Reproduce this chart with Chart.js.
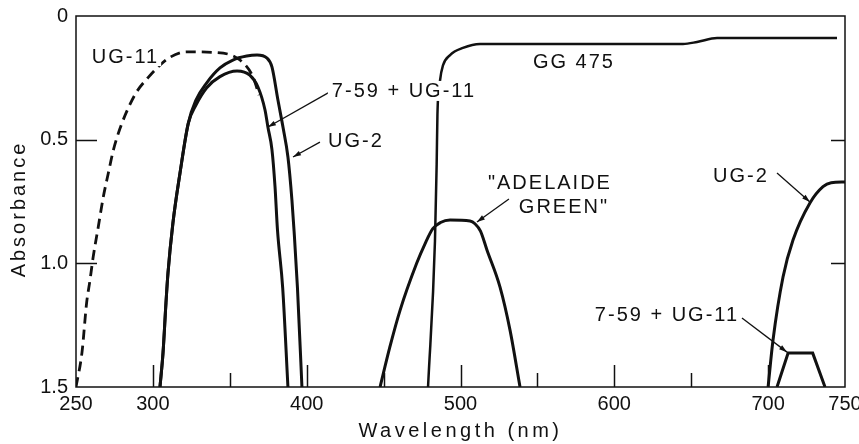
<!DOCTYPE html>
<html>
<head>
<meta charset="utf-8">
<script src="https://cdn.jsdelivr.net/npm/chart.js@4"></script>
<style>
  html, body { margin: 0; padding: 0; background: #fff; }
</style>
</head>
<body>
<canvas id="graficoFiltros" width="859" height="444"></canvas>
<script>
// curvas (longitud de onda nm, absorbancia)
const ug11Wl  = [250, 253.9, 256.9, 259.1, 261.2, 264.5, 267.8, 271, 274.3, 278.6, 284, 289.5, 297, 303.5, 311.1, 322, 341.7, 356.6, 365, 369];
const ug11Abs = [1.5, 1.36, 1.16, 1.068, 0.973, 0.852, 0.73, 0.636, 0.542, 0.455, 0.372, 0.306, 0.248, 0.205, 0.167, 0.145, 0.148, 0.178, 0.245, 0.32];

const f759Wl  = [304.6, 306.6, 308.5, 309.8, 313, 317.6, 323, 328, 335, 343.6, 354.7, 363, 368.3, 372.9, 374.8, 377.4, 379.4, 381, 384.4, 387.8];
const f759Abs = [1.5, 1.36, 1.16, 1.04, 0.838, 0.636, 0.434, 0.36, 0.29, 0.245, 0.222, 0.239, 0.287, 0.38, 0.45, 0.54, 0.69, 0.865, 1.1, 1.5];

const ug2Wl  = [304.6, 306.6, 308.5, 309.8, 313, 317.6, 323, 328, 335, 343.6, 352, 361, 367.7, 374.2, 377.4, 381.3, 384.6, 387.8, 390.4, 391.8, 394, 396.9];
const ug2Abs = [1.5, 1.36, 1.16, 1.04, 0.838, 0.636, 0.434, 0.34, 0.27, 0.21, 0.178, 0.162, 0.158, 0.17, 0.206, 0.34, 0.45, 0.57, 0.744, 0.87, 1.1, 1.5];

const gg475Wl  = [478.9, 483.4, 484.5, 485, 486.7, 488.6, 493.2, 501.6, 512.7, 644.7, 653.8, 666.8, 744.8];
const gg475Abs = [1.5, 0.91, 0.6, 0.4, 0.26, 0.2, 0.158, 0.129, 0.113, 0.113, 0.105, 0.089, 0.089];

const adelaideWl  = [447.7, 454, 460.7, 471.5, 477, 482, 487, 493.2, 506.2, 509.4, 513, 517.2, 525.7, 532.2, 538.7];
const adelaideAbs = [1.5, 1.34, 1.19, 1.0, 0.92, 0.86, 0.835, 0.825, 0.829, 0.84, 0.87, 0.946, 1.096, 1.27, 1.5];

const ug2RojoWl  = [700, 703.2, 709.7, 716.2, 727.2, 735.7, 741, 750];
const ug2RojoAbs = [1.5, 1.31, 1.055, 0.906, 0.756, 0.69, 0.674, 0.671];

const f759RojoWl  = [705.8, 713, 729, 737];
const f759RojoAbs = [1.5, 1.363, 1.363, 1.5];

// ejes
const xEtiquetas = [250, 300, 400, 500, 600, 700, 750];
const xMarcas = [300, 350, 400, 450, 500, 550, 600, 650, 700];
const yMarcas = [0.5, 1.0];

// rotulos dentro del grafico
const rotulos  = ['UG-11', '7-59 + UG-11', 'UG-2', 'GG 475', '"ADELAIDE', 'GREEN"', 'UG-2', '7-59 + UG-11'];
const rotuloWl = [281.5, 462.6, 431.4, 573.1, 557.5, 566.6, 681.7, 633.6];
const rotuloAbs = [0.162, 0.303, 0.505, 0.184, 0.673, 0.772, 0.643, 1.205];

// lineas guia: desde (wl, abs) hasta (wl, abs)
const guiaDesdeWl  = [415.1, 408.6, 531.5, 705.8, 683];
const guiaDesdeAbs = [0.307, 0.51, 0.74, 0.635, 1.221];
const guiaHastaWl  = [374.8, 391.1, 510.7, 727.2, 712.3];
const guiaHastaAbs = [0.449, 0.57, 0.833, 0.752, 1.359];

function puntos(wl, abs) {
  return wl.map((w, i) => ({ x: w, y: abs[i] }));
}

function serie(wl, abs, extra) {
  return Object.assign({
    data: puntos(wl, abs),
    showLine: true,
    borderColor: '#111',
    borderWidth: 3,
    pointRadius: 0,
    fill: false,
    cubicInterpolationMode: 'monotone'
  }, extra || {});
}

const FUENTE = '"Liberation Sans", Arial, sans-serif';

const dibujo = {
  id: 'dibujo',
  afterDraw(chart) {
    const { ctx, chartArea: a, scales: { x, y } } = chart;
    ctx.save();
    ctx.setLineDash([]);
    ctx.strokeStyle = '#111';
    ctx.fillStyle = '#111';
    ctx.lineWidth = 1.5;
    ctx.strokeRect(a.left, a.top, a.right - a.left, a.bottom - a.top);

    // marcas hacia adentro
    xMarcas.forEach(v => {
      const px = Math.round(x.getPixelForValue(v)) + 0.5;
      const largo = v % 100 === 0 ? 22 : 14;
      ctx.beginPath();
      ctx.moveTo(px, a.bottom);
      ctx.lineTo(px, a.bottom - largo);
      ctx.stroke();
    });
    yMarcas.forEach(v => {
      const py = Math.round(y.getPixelForValue(v)) + 0.5;
      ctx.beginPath();
      ctx.moveTo(a.left, py);
      ctx.lineTo(a.left + 21, py);
      ctx.moveTo(a.right, py);
      ctx.lineTo(a.right - 14, py);
      ctx.stroke();
    });

    // lineas guia con punta
    ctx.lineWidth = 1.3;
    guiaDesdeWl.forEach((w, i) => {
      const x0 = x.getPixelForValue(w), y0 = y.getPixelForValue(guiaDesdeAbs[i]);
      const x1 = x.getPixelForValue(guiaHastaWl[i]), y1 = y.getPixelForValue(guiaHastaAbs[i]);
      ctx.beginPath();
      ctx.moveTo(x0, y0);
      ctx.lineTo(x1, y1);
      ctx.stroke();
      const ang = Math.atan2(y1 - y0, x1 - x0);
      ctx.beginPath();
      ctx.moveTo(x1, y1);
      ctx.lineTo(x1 - 8 * Math.cos(ang) + 2.5 * Math.sin(ang), y1 - 8 * Math.sin(ang) - 2.5 * Math.cos(ang));
      ctx.lineTo(x1 - 8 * Math.cos(ang) - 2.5 * Math.sin(ang), y1 - 8 * Math.sin(ang) + 2.5 * Math.cos(ang));
      ctx.closePath();
      ctx.fill();
    });

    // rotulos
    ctx.font = '20px ' + FUENTE;
    ctx.letterSpacing = '2px';
    ctx.textAlign = 'center';
    ctx.textBaseline = 'middle';
    rotulos.forEach((t, i) => {
      const px = x.getPixelForValue(rotuloWl[i]);
      const py = y.getPixelForValue(rotuloAbs[i]);
      const ancho = ctx.measureText(t).width;
      ctx.fillStyle = '#fff';
      ctx.fillRect(px - ancho / 2 - 3, py - 10, ancho + 6, 20);
      ctx.fillStyle = '#111';
      ctx.fillText(t, px + 1, py + 1);
    });

    // titulos de ejes
    ctx.letterSpacing = '3.5px';
    ctx.fillText('Wavelength (nm)', (a.left + a.right) / 2, 431);
    ctx.letterSpacing = '3px';
    ctx.translate(19, 209);
    ctx.rotate(-Math.PI / 2);
    ctx.fillText('Absorbance', 0, 0);
    ctx.restore();
  }
};

new Chart(document.getElementById('graficoFiltros'), {
  type: 'scatter',
  data: {
    datasets: [
      serie(ug11Wl, ug11Abs, { borderDash: [10, 6], borderWidth: 2.8 }),
      serie(f759Wl, f759Abs),
      serie(ug2Wl, ug2Abs),
      serie(gg475Wl, gg475Abs, { borderWidth: 2.5 }),
      serie(adelaideWl, adelaideAbs),
      serie(ug2RojoWl, ug2RojoAbs),
      serie(f759RojoWl, f759RojoAbs, { cubicInterpolationMode: 'default', tension: 0 })
    ]
  },
  options: {
    responsive: false,
    animation: false,
    layout: { padding: { top: 16, right: 14, left: 0, bottom: 0 } },
    plugins: { legend: { display: false }, tooltip: { enabled: false } },
    scales: {
      x: {
        type: 'linear',
        min: 250,
        max: 750,
        grid: { display: false, drawTicks: false },
        border: { display: false },
        ticks: {
          stepSize: 50,
          autoSkip: false,
          maxRotation: 0,
          padding: 5,
          color: '#111',
          font: { family: FUENTE, size: 20 },
          callback: v => xEtiquetas.includes(v) ? String(v) : ''
        },
        afterFit: s => { s.height = 57; s.paddingLeft = 0; s.paddingRight = 0; }
      },
      y: {
        min: 0,
        max: 1.5,
        reverse: true,
        grid: { display: false, drawTicks: false },
        border: { display: false },
        ticks: {
          stepSize: 0.5,
          padding: 8,
          color: '#111',
          font: { family: FUENTE, size: 20 },
          callback: v => v === 0 ? '0' : v.toFixed(1)
        },
        afterFit: s => { s.width = 76; s.paddingTop = 0; s.paddingBottom = 0; }
      }
    }
  },
  plugins: [dibujo]
});
</script>
</body>
</html>
